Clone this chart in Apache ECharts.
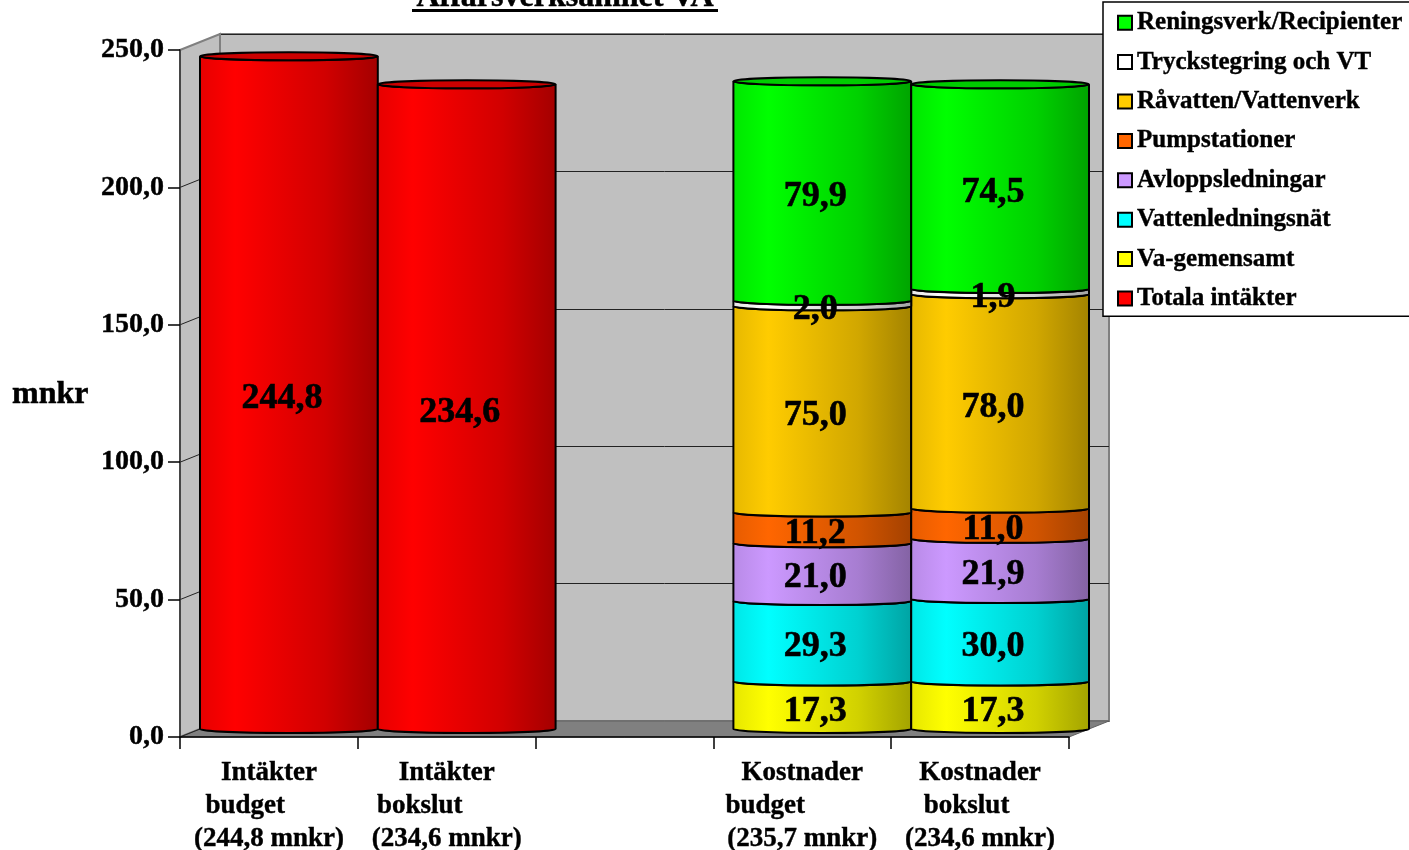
<!DOCTYPE html>
<html><head><meta charset="utf-8">
<script src="https://cdn.jsdelivr.net/npm/echarts/dist/echarts.min.js"></script>
<style>html,body{margin:0;padding:0;background:#fff;overflow:hidden}#c{width:1409px;height:850px}</style>
</head><body><div id="c"></div>
<script>
// ---- data ----
const categories = ['Intäkter\nbudget       \n(244,8 mnkr)', 'Intäkter\nbokslut        \n(234,6 mnkr)', '', 'Kostnader\nbudget           \n(235,7 mnkr)', 'Kostnader\nbokslut    \n(234,6 mnkr)'];
const seriesNames = ['Totala intäkter', 'Va-gemensamt', 'Vattenledningsnät', 'Avloppsledningar', 'Pumpstationer', 'Råvatten/Vattenverk', 'Tryckstegring och VT', 'Reningsverk/Recipienter'];
const seriesColors = ['#ff0000', '#ffff00', '#00ffff', '#cc99ff', '#ff6600', '#ffcc00', '#ffffff', '#00ff00'];
const totalaIntakter   = [244.8, 234.6, null, null, null];
const vaGemensamt      = [null, null, null, 17.3, 17.3];
const vattenledningsnat= [null, null, null, 29.3, 30.0];
const avloppsledningar = [null, null, null, 21.0, 21.9];
const pumpstationer    = [null, null, null, 11.2, 11.0];
const ravattenVattenverk = [null, null, null, 75.0, 78.0];
const tryckstegring    = [null, null, null, 2.0, 1.9];
const reningsverk      = [null, null, null, 79.9, 74.5];
const yTicks = [0, 50, 100, 150, 200, 250];
const titleText = 'Affärsverksamhet VA';
const yName = 'mnkr';

const seriesValues = [totalaIntakter, vaGemensamt, vattenledningsnat, avloppsledningar, pumpstationer, ravattenVattenverk, tryckstegring, reningsverk];

// ---- layout / style ----
const FONT = '"Liberation Serif", "Times New Roman", serif';
const L = 180, T = 50, R = 1069, B = 737;
const DX = 40, DY = -16, RY = 4;

function shade(hex, f) {
  const n = parseInt(hex.slice(1), 16);
  const r = (n >> 16) & 255, g = (n >> 8) & 255, b = n & 255;
  return 'rgb(' + Math.round(r * f) + ',' + Math.round(g * f) + ',' + Math.round(b * f) + ')';
}
function fmt(v) { return v.toFixed(1).replace('.', ','); }

const bases = categories.map(() => 0);
const lastIdx = categories.map((_, c) => {
  let li = -1; seriesValues.forEach((arr, s) => { if (arr[c] != null) li = s; }); return li;
});
const seriesData = seriesValues.map((arr, s) => {
  const out = [];
  arr.forEach((v, c) => {
    if (v == null) return;
    out.push([c, bases[c], bases[c] + v, lastIdx[c] === s ? 1 : 0, v]);
    bases[c] += v;
  });
  return out;
});

function renderCyl(params, api) {
  const cat = api.value(0), lo = api.value(1), hi = api.value(2), isTop = api.value(3), val = api.value(4);
  const color = seriesColors[params.seriesIndex];
  const pLo = api.coord([cat, lo]), pHi = api.coord([cat, hi]);
  const w = api.size([1, 0])[0];
  const cx = pLo[0] + DX / 2, yb = pLo[1] + DY / 2, yt = pHi[1] + DY / 2;
  const rx = w / 2, ry = RY, x0 = cx - rx, x1 = cx + rx;
  const grad = new echarts.graphic.LinearGradient(0, 0, 1, 0, [
    { offset: 0, color: shade(color, 0.9) },
    { offset: 0.2, color: color },
    { offset: 0.7, color: shade(color, 0.82) },
    { offset: 1, color: shade(color, 0.64) }
  ]);
  const children = [{
    type: 'path',
    shape: { pathData: `M${x0} ${yt}L${x0} ${yb}A${rx} ${ry} 0 0 0 ${x1} ${yb}L${x1} ${yt}A${rx} ${ry} 0 0 1 ${x0} ${yt}Z` },
    style: { fill: grad, stroke: '#000', lineWidth: 2 }
  }];
  if (isTop) {
    children.push({
      type: 'path',
      shape: { pathData: `M${x0} ${yt}A${rx} ${ry} 0 0 0 ${x1} ${yt}A${rx} ${ry} 0 0 0 ${x0} ${yt}Z` },
      style: { fill: shade(color, 0.8), stroke: '#000', lineWidth: 2 }
    });
  }
  children.push({
    type: 'text', x: cx - 7, y: (yt + yb) / 2 + 6, z2: 100,
    style: { text: fmt(val), font: `bold 36px ${FONT}`, fill: '#000', stroke: '#000', lineWidth: 0.6, align: 'center', verticalAlign: 'middle' }
  });
  return { type: 'group', children };
}

const chart = echarts.init(document.getElementById('c'), null, { renderer: 'canvas' });
const boldText = { color: '#000', fontFamily: FONT, fontWeight: 'bold', textBorderColor: '#000', textBorderWidth: 0.4 };
const option = {
  animation: false,
  backgroundColor: '#fff',
  grid: [
    { left: L, top: T, right: 1409 - R, bottom: 850 - B, show: false, containLabel: false, outerBoundsMode: 'none' },
    { left: L + DX, top: T + DY, right: 1409 - R - DX, bottom: 850 - B - DY, show: true, backgroundColor: '#c0c0c0', borderColor: '#808080', borderWidth: 2, z: -1, containLabel: false, outerBoundsMode: 'none' }
  ],
  xAxis: [
    { type: 'category', gridIndex: 0, data: categories, z: 5,
      axisLine: { lineStyle: { color: '#000', width: 1.5 } },
      axisTick: { show: true, length: 12, lineStyle: { color: '#000', width: 1.5 } },
      axisLabel: Object.assign({ interval: 0, margin: 20, fontSize: 27, lineHeight: 33 }, boldText) },
    { type: 'category', gridIndex: 1, data: categories, show: false }
  ],
  yAxis: [
    { type: 'value', gridIndex: 0, min: 0, max: 250, interval: 50, z: 5,
      axisLine: { show: true, lineStyle: { color: '#333', width: 1.5 } },
      axisTick: { show: true, length: 12, lineStyle: { color: '#000', width: 1.5 } },
      splitLine: { show: false },
      axisLabel: Object.assign({ margin: 16, fontSize: 28, formatter: v => fmt(v) }, boldText) },
    { type: 'value', gridIndex: 1, min: 0, max: 250, interval: 50,
      axisLine: { show: false }, axisTick: { show: false }, axisLabel: { show: false },
      splitLine: { show: true, lineStyle: { color: '#222', width: 1 } } }
  ],
  legend: {
    orient: 'vertical', left: 1103, top: 2,
    data: seriesNames.slice().reverse(),
    icon: 'rect', itemWidth: 14, itemHeight: 14, itemGap: 14,
    padding: [8, 20, 5, 14],
    backgroundColor: '#fff', borderColor: '#000', borderWidth: 1.5,
    itemStyle: { borderColor: '#000', borderWidth: 2 },
    textStyle: Object.assign({ fontSize: 25, lineHeight: 25.3 }, boldText),
    selectedMode: false
  },
  series: seriesNames.map((name, s) => ({
    type: 'custom', name, xAxisIndex: 0, yAxisIndex: 0,
    itemStyle: { color: seriesColors[s] },
    renderItem: renderCyl,
    encode: { x: 0, y: [1, 2] },
    data: seriesData[s]
  }))
};
chart.setOption(option);

const yF = v => chart.convertToPixel({ yAxisIndex: 0 }, v);
const y0 = yF(0), yTop = yF(250);
const deco = [
  { type: 'polygon', z: 1, shape: { points: [[L, yTop], [L + DX, yTop + DY], [L + DX, y0 + DY], [L, y0]] }, style: { fill: '#c0c0c0', stroke: '#808080', lineWidth: 2 } },
  { type: 'polygon', z: 1, shape: { points: [[L, y0], [L + DX, y0 + DY], [R + DX, y0 + DY], [R, y0]] }, style: { fill: '#808080', stroke: '#606060', lineWidth: 1 } }
];
yTicks.forEach(v => {
  if (v === 250) return;
  deco.push({ type: 'line', z: 1, shape: { x1: L, y1: yF(v), x2: L + DX, y2: yF(v) + DY }, style: { stroke: '#222', lineWidth: 1 } });
});
deco.push({ type: 'text', z: 10, x: 565, y: 14, style: { text: titleText, font: `bold 32px ${FONT}`, fill: '#000', stroke: '#000', lineWidth: 0.5, align: 'center', verticalAlign: 'bottom' } });
deco.push({ type: 'rect', z: 10, shape: { x: 412, y: 9, width: 306, height: 3 }, style: { fill: '#000' } });
deco.push({ type: 'text', z: 10, x: 12, y: 395, style: { text: yName, font: `bold 32px ${FONT}`, fill: '#000', stroke: '#000', lineWidth: 0.5, align: 'left', verticalAlign: 'middle' } });
chart.setOption({ graphic: deco });
</script>
</body></html>
